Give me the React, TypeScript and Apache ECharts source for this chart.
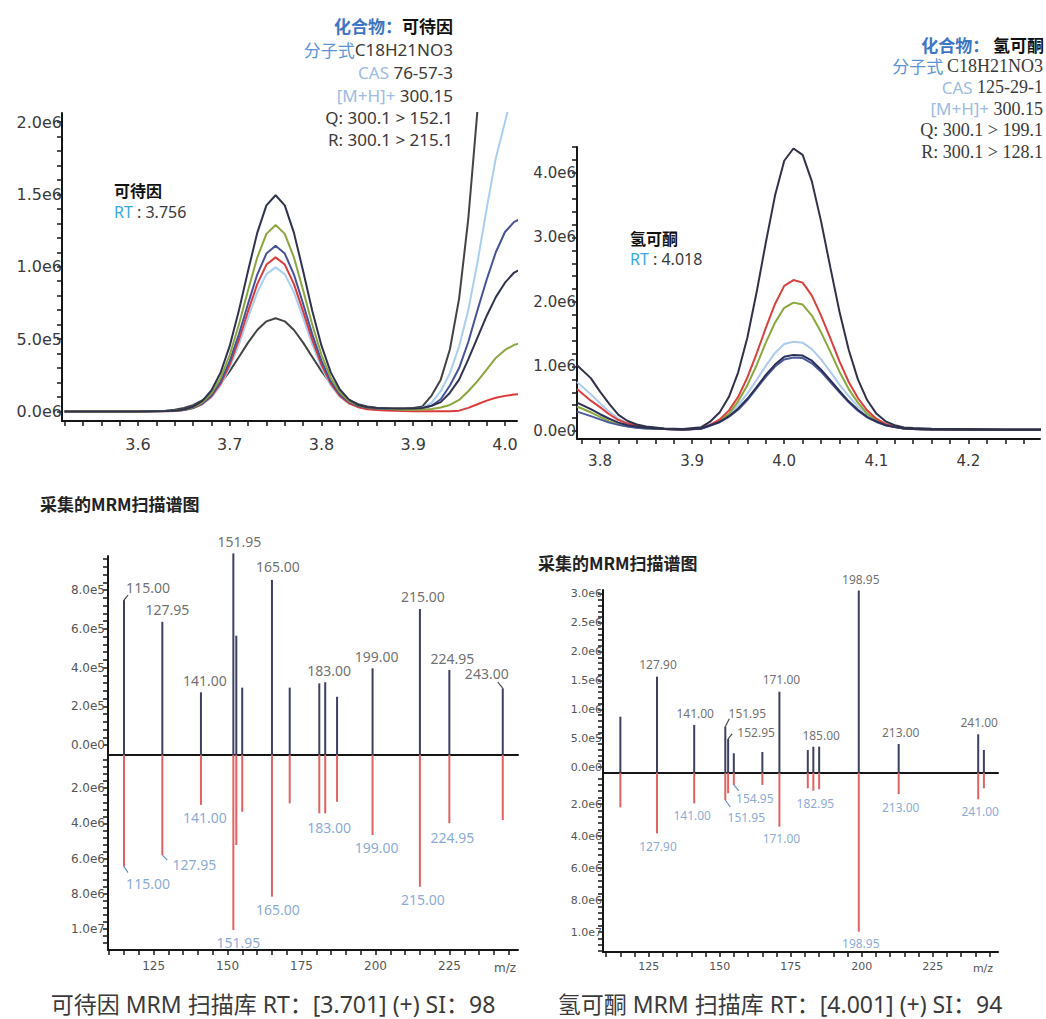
import React, { useEffect, useRef } from "react";
import * as echarts from "echarts";

// ---- Extracted ion chromatograms (retention time in min, intensity in 1e6 counts) ----
const codeineRt = [3.52, 3.56, 3.6, 3.63, 3.64, 3.65, 3.66, 3.67, 3.68, 3.69, 3.7, 3.71, 3.72, 3.73, 3.74, 3.75, 3.76, 3.77, 3.78, 3.79, 3.8, 3.81, 3.82, 3.83, 3.84, 3.85, 3.86, 3.87, 3.88, 3.89, 3.9, 3.91, 3.92, 3.93, 3.94, 3.95, 3.96, 3.97, 3.98, 3.99, 4.0, 4.01, 4.02];
const codeineNavy = [0, 0, 0, 0.003, 0.006, 0.014, 0.033, 0.072, 0.145, 0.268, 0.453, 0.697, 0.972, 1.234, 1.424, 1.494, 1.424, 1.234, 0.971, 0.695, 0.455, 0.272, 0.152, 0.082, 0.045, 0.03, 0.024, 0.022, 0.02, 0.02, 0.02, 0.025, 0.04, 0.065, 0.13, 0.22, 0.36, 0.51, 0.66, 0.79, 0.89, 0.96, 0.99];
const codeineGreen = [0, 0, 0, 0.003, 0.005, 0.012, 0.029, 0.062, 0.125, 0.231, 0.391, 0.601, 0.838, 1.064, 1.227, 1.288, 1.227, 1.064, 0.837, 0.6, 0.392, 0.235, 0.132, 0.072, 0.042, 0.028, 0.022, 0.02, 0.015, 0.012, 0.012, 0.014, 0.018, 0.028, 0.045, 0.08, 0.14, 0.21, 0.29, 0.37, 0.425, 0.46, 0.48];
const codeineIndigo = [0, 0, 0, 0.003, 0.005, 0.011, 0.026, 0.055, 0.111, 0.206, 0.348, 0.534, 0.745, 0.946, 1.091, 1.145, 1.091, 0.946, 0.744, 0.533, 0.349, 0.21, 0.118, 0.066, 0.038, 0.025, 0.02, 0.018, 0.015, 0.015, 0.018, 0.022, 0.04, 0.085, 0.18, 0.3, 0.48, 0.7, 0.91, 1.1, 1.24, 1.31, 1.34];
const codeineRed = [0, 0, 0, 0.002, 0.004, 0.01, 0.024, 0.052, 0.104, 0.192, 0.324, 0.496, 0.693, 0.88, 1.015, 1.065, 1.015, 0.88, 0.692, 0.495, 0.324, 0.194, 0.108, 0.057, 0.03, 0.016, 0.01, 0.007, 0.005, 0.003, 0.002, 0.002, 0.002, 0.002, 0.002, 0.006, 0.025, 0.05, 0.075, 0.095, 0.108, 0.117, 0.122];
const codeineSky = [0, 0, 0, 0.002, 0.004, 0.009, 0.022, 0.048, 0.097, 0.179, 0.303, 0.464, 0.648, 0.823, 0.949, 0.996, 0.949, 0.823, 0.647, 0.464, 0.304, 0.182, 0.102, 0.056, 0.033, 0.022, 0.017, 0.015, 0.015, 0.015, 0.018, 0.025, 0.06, 0.14, 0.265, 0.45, 0.7, 1.03, 1.4, 1.75, 2.0, 2.25, 2.5];
const codeineGray = [0, 0, 0, 0.006, 0.012, 0.024, 0.044, 0.076, 0.125, 0.194, 0.279, 0.377, 0.476, 0.563, 0.623, 0.644, 0.623, 0.563, 0.476, 0.377, 0.279, 0.195, 0.128, 0.08, 0.05, 0.034, 0.026, 0.022, 0.02, 0.02, 0.025, 0.035, 0.11, 0.22, 0.43, 0.78, 1.33, 2.08, 2.9, 3.6, 4.2, 4.8, 5.3];

const hydroRt = [3.775, 3.79, 3.8, 3.81, 3.82, 3.83, 3.84, 3.85, 3.87, 3.89, 3.91, 3.92, 3.93, 3.94, 3.95, 3.96, 3.97, 3.98, 3.99, 4.0, 4.01, 4.02, 4.03, 4.04, 4.05, 4.06, 4.07, 4.08, 4.09, 4.1, 4.11, 4.12, 4.13, 4.14, 4.16, 4.2, 4.24, 4.28];
const hydroDark = [1.02, 0.82, 0.61, 0.42, 0.25, 0.155, 0.1, 0.07, 0.04, 0.03, 0.06, 0.15, 0.29, 0.53, 0.91, 1.45, 2.15, 2.92, 3.65, 4.19, 4.38, 4.28, 3.87, 3.25, 2.54, 1.85, 1.26, 0.8, 0.48, 0.27, 0.15, 0.09, 0.055, 0.045, 0.035, 0.03, 0.025, 0.025];
const hydroRed = [0.65, 0.47, 0.37, 0.26, 0.17, 0.115, 0.08, 0.06, 0.03, 0.02, 0.04, 0.1, 0.18, 0.32, 0.53, 0.83, 1.2, 1.6, 1.97, 2.25, 2.34, 2.3, 2.1, 1.79, 1.44, 1.08, 0.76, 0.51, 0.32, 0.19, 0.11, 0.07, 0.04, 0.03, 0.025, 0.02, 0.02, 0.02];
const hydroGreen = [0.38, 0.29, 0.22, 0.15, 0.1, 0.07, 0.05, 0.04, 0.03, 0.02, 0.04, 0.09, 0.16, 0.27, 0.46, 0.71, 1.02, 1.37, 1.68, 1.91, 1.99, 1.96, 1.79, 1.53, 1.23, 0.92, 0.65, 0.44, 0.27, 0.17, 0.1, 0.06, 0.04, 0.03, 0.025, 0.02, 0.02, 0.02];
const hydroSky = [0.76, 0.57, 0.43, 0.3, 0.19, 0.12, 0.08, 0.06, 0.035, 0.025, 0.05, 0.1, 0.16, 0.26, 0.4, 0.58, 0.79, 1.01, 1.21, 1.35, 1.385, 1.37, 1.27, 1.11, 0.92, 0.72, 0.54, 0.38, 0.26, 0.17, 0.11, 0.07, 0.045, 0.03, 0.025, 0.02, 0.02, 0.02];
const hydroNavy = [0.44, 0.34, 0.26, 0.19, 0.13, 0.09, 0.065, 0.05, 0.03, 0.025, 0.04, 0.09, 0.14, 0.23, 0.35, 0.5, 0.68, 0.87, 1.03, 1.15, 1.18, 1.17, 1.09, 0.95, 0.79, 0.62, 0.46, 0.33, 0.22, 0.15, 0.09, 0.06, 0.04, 0.03, 0.025, 0.02, 0.02, 0.02];
const hydroIndigo = [0.3, 0.23, 0.18, 0.13, 0.095, 0.07, 0.05, 0.04, 0.03, 0.02, 0.035, 0.085, 0.14, 0.22, 0.33, 0.48, 0.66, 0.84, 1.0, 1.11, 1.14, 1.13, 1.05, 0.92, 0.76, 0.6, 0.445, 0.315, 0.21, 0.14, 0.09, 0.06, 0.04, 0.03, 0.025, 0.02, 0.02, 0.02];

// ---- MRM spectra: acquired (up) vs library (down), m/z and counts ----
const codeineMz = [115, 127.95, 141, 151.95, 152.95, 154.95, 165, 171, 181, 183, 187, 199, 215, 224.95, 243];
const codeineAcquired = [7.48e5, 6.36e5, 2.72e5, 9.89e5, 5.64e5, 2.96e5, 8.52e5, 2.96e5, 3.18e5, 3.24e5, 2.49e5, 3.96e5, 7.02e5, 3.87e5, 2.93e5];
const codeineLibrary = [6.46e6, 5.8e6, 2.95e6, 10.06e6, 5.23e6, 3.34e6, 8.16e6, 2.86e6, 3.43e6, 3.43e6, 2.77e6, 4.66e6, 7.6e6, 3.99e6, 3.81e6];

const hydroMz = [115, 127.9, 141, 151.95, 152.95, 154.95, 165, 171, 181, 182.95, 185, 198.95, 213, 241, 243];
const hydroAcquired = [0.872e6, 1.566e6, 0.728e6, 0.699e6, 0.486e6, 0.238e6, 0.26e6, 1.306e6, 0.295e6, 0.352e6, 0.352e6, 3.06e6, 0.399e6, 0.567e6, 0.295e6];
const hydroLibrary = [2.21e6, 3.83e6, 1.96e6, 1.75e6, 1.33e6, 0.81e6, 0.81e6, 3.42e6, 1.02e6, 1.17e6, 1.08e6, 9.98e6, 1.38e6, 1.71e6, 1.02e6];

// ---- Tick labels ----
const codeineRtTicks = [3.6, 3.7, 3.8, 3.9, 4.0];
const codeineIntTicks = [0, 0.5, 1.0, 1.5, 2.0];
const codeineIntLabels = ["0.0e6", "5.0e5", "1.0e6", "1.5e6", "2.0e6"];
const hydroRtTicks = [3.8, 3.9, 4.0, 4.1, 4.2];
const hydroIntTicks = [0, 1, 2, 3, 4];
const hydroIntLabels = ["0.0e0", "1.0e6", "2.0e6", "3.0e6", "4.0e6"];
const mzTicks = [125, 150, 175, 200, 225];
const codeineAcqTicks = [0, 2e5, 4e5, 6e5, 8e5];
const codeineAcqLabels = ["0.0e0", "2.0e5", "4.0e5", "6.0e5", "8.0e5"];
const hydroAcqTicks = [0, 5e5, 1e6, 1.5e6, 2e6, 2.5e6, 3e6];
const hydroAcqLabels = ["0.0e0", "5.0e5", "1.0e6", "1.5e6", "2.0e6", "2.5e6", "3.0e6"];
const libTicks = [2e6, 4e6, 6e6, 8e6, 1e7];
const libLabels = ["2.0e6", "4.0e6", "6.0e6", "8.0e6", "1.0e7"];

const AXIS = "#161616";
const TICK_FONT = "DejaVu Sans";
const SANS = "Noto Sans, Noto Sans CJK SC, sans-serif";
const CJK = "Noto Sans CJK SC, sans-serif";
const SERIF = "Liberation Serif, serif";

function steps(from: number, to: number, step: number) {
  const out: number[] = [];
  const n = Math.round((to - from) / step);
  for (let k = 0; k <= n; k++) out.push(+(from + k * step).toFixed(6));
  return out;
}

function lookup(values: number[], texts: string[]) {
  return (v: number) => {
    const i = values.findIndex((x) => Math.abs(x - v) <= 1e-9 * Math.max(1, Math.abs(x)));
    return i >= 0 ? texts[i] : "";
  };
}

function axis(o: any) {
  return {
    type: "value",
    gridIndex: o.grid,
    min: o.min,
    max: o.max,
    inverse: !!o.inverse,
    splitLine: { show: false },
    axisLine: { show: true, onZero: false, lineStyle: { color: AXIS, width: 2 } },
    axisTick: o.ticks
      ? { show: true, customValues: o.ticks, length: 5, lineStyle: { color: AXIS, width: 1.5 } }
      : { show: false },
    axisLabel: o.labels
      ? {
          show: true,
          customValues: o.labels,
          formatter: o.fmt,
          fontSize: o.fontSize,
          color: o.color || "#3a3a3a",
          margin: o.margin,
          fontFamily: TICK_FONT,
        }
      : { show: false },
  };
}

function lineSeries(axisIndex: number, rt: number[], vals: number[], color: string) {
  return {
    type: "line",
    xAxisIndex: axisIndex,
    yAxisIndex: axisIndex,
    data: rt.map((t, i) => [t, vals[i]]),
    symbol: "none",
    showSymbol: false,
    smooth: false,
    silent: true,
    clip: true,
    lineStyle: { color, width: 2 },
    itemStyle: { color },
  };
}

function stickSeries(axisIndex: number, mz: number[], vals: number[], base: number, color: string) {
  return {
    type: "custom",
    xAxisIndex: axisIndex,
    yAxisIndex: axisIndex,
    silent: true,
    clip: false,
    data: mz.map((m, i) => [m, vals[i]]),
    renderItem: (_p: any, api: any) => {
      const m = api.value(0);
      const a = api.coord([m, base]);
      const b = api.coord([m, api.value(1)]);
      return {
        type: "line",
        shape: { x1: a[0], y1: a[1], x2: b[0], y2: b[1] },
        style: { stroke: color, lineWidth: 2 },
      };
    },
  };
}

type LabelSpot = { i: number; dx: number; dy: number; leader?: number[] };

function labelSeries(axisIndex: number, mz: number[], vals: number[], spots: LabelSpot[], color: string, fontSize: number) {
  return {
    type: "scatter",
    xAxisIndex: axisIndex,
    yAxisIndex: axisIndex,
    silent: true,
    clip: false,
    symbolSize: 0,
    itemStyle: { color: "transparent" },
    data: spots.map((s) => ({
      name: mz[s.i].toFixed(2),
      value: [mz[s.i], vals[s.i]],
      label: { offset: [s.dx, s.dy] },
    })),
    label: {
      show: true,
      position: "inside",
      formatter: "{b}",
      color,
      fontSize,
      fontFamily: SANS,
    },
    z: 5,
  };
}

function leaderSeries(axisIndex: number, mz: number[], vals: number[], spots: LabelSpot[], color: string) {
  const withLeader = spots.filter((s) => s.leader);
  return {
    type: "custom",
    xAxisIndex: axisIndex,
    yAxisIndex: axisIndex,
    silent: true,
    clip: false,
    data: withLeader.map((s) => [mz[s.i], vals[s.i], s.leader![0], s.leader![1]]),
    renderItem: (_p: any, api: any) => {
      const p = api.coord([api.value(0), api.value(1)]);
      return {
        type: "line",
        shape: { x1: p[0], y1: p[1], x2: p[0] + api.value(2), y2: p[1] + api.value(3) },
        style: { stroke: color, lineWidth: 1.2 },
      };
    },
  };
}

// label placement around stick tips (pixels)
const codeineUpSpots: LabelSpot[] = [
  { i: 0, dx: 24, dy: -13, leader: [4, -5] },
  { i: 1, dx: 5, dy: -12 },
  { i: 2, dx: 4, dy: -12 },
  { i: 3, dx: 6, dy: -12 },
  { i: 6, dx: 6, dy: -13 },
  { i: 9, dx: 4, dy: -12 },
  { i: 11, dx: 4, dy: -12 },
  { i: 12, dx: 3, dy: -12 },
  { i: 13, dx: 3, dy: -12 },
  { i: 14, dx: -16, dy: -15, leader: [-5, -6] },
];
const codeineDownSpots: LabelSpot[] = [
  { i: 0, dx: 24, dy: 17, leader: [4, 6] },
  { i: 1, dx: 32, dy: 9, leader: [5, 5] },
  { i: 2, dx: 4, dy: 13 },
  { i: 3, dx: 5, dy: 12 },
  { i: 6, dx: 6, dy: 13 },
  { i: 9, dx: 4, dy: 14 },
  { i: 11, dx: 4, dy: 12 },
  { i: 12, dx: 3, dy: 13 },
  { i: 13, dx: 3, dy: 14 },
];
const hydroUpSpots: LabelSpot[] = [
  { i: 1, dx: 1, dy: -12 },
  { i: 2, dx: 1, dy: -12 },
  { i: 3, dx: 22, dy: -13, leader: [4, -8] },
  { i: 4, dx: 28, dy: -6, leader: [4, -5] },
  { i: 7, dx: 2, dy: -12 },
  { i: 10, dx: 2, dy: -11 },
  { i: 11, dx: 2, dy: -11 },
  { i: 12, dx: 2, dy: -11 },
  { i: 13, dx: 1, dy: -12 },
];
const hydroDownSpots: LabelSpot[] = [
  { i: 1, dx: 1, dy: 13 },
  { i: 2, dx: -2, dy: 12 },
  { i: 3, dx: 21, dy: 17, leader: [5, 7] },
  { i: 5, dx: 21, dy: 14, leader: [5, 6] },
  { i: 7, dx: 2, dy: 12 },
  { i: 9, dx: 2, dy: 13 },
  { i: 11, dx: 2, dy: 12 },
  { i: 12, dx: 2, dy: 13 },
  { i: 13, dx: 2, dy: 12 },
];

function infoRich(serif: boolean) {
  const lh = 19;
  return {
    b: { fill: "#3f76c4", fontSize: 17, fontWeight: "bold", fontFamily: CJK, lineHeight: lh },
    k: { fill: "#111111", fontSize: 17, fontWeight: "bold", fontFamily: CJK, lineHeight: lh },
    l: { fill: "#5b93d6", fontSize: 17, fontFamily: CJK, lineHeight: lh },
    m: { fill: "#9dbbe4", fontSize: 17, fontFamily: SANS, lineHeight: lh },
    g: { fill: "#3a3a3a", fontSize: serif ? 18 : 17, fontFamily: serif ? SERIF : SANS, lineHeight: lh },
  };
}

function richText(x: number, y: number, text: string, rich: any, align = "right") {
  return {
    type: "text",
    x,
    y,
    silent: true,
    style: { text, rich, align, verticalAlign: "middle" },
    z: 10,
  };
}

function plainText(x: number, y: number, text: string, style: any) {
  return {
    type: "text",
    x,
    y,
    silent: true,
    style: { text, verticalAlign: "middle", ...style },
    z: 10,
  };
}

function buildOption() {
  const fmtRt = (v: number) => v.toFixed(1);
  const fmtMz = (v: number) => String(v);
  const leftRich = infoRich(false);
  const rightRich = infoRich(true);
  const peakRich = {
    k: { fill: "#111111", fontSize: 16, fontWeight: "bold", fontFamily: CJK, lineHeight: 19 },
    r: { fill: "#3aa9e0", fontSize: 16, fontFamily: SANS, lineHeight: 19 },
    g: { fill: "#3a3a3a", fontSize: 16, fontFamily: SANS, lineHeight: 19 },
  };
  const captionStyle = { fill: "#3a3a3a", fontSize: 23, fontFamily: SANS, align: "center" };
  const titleStyle = { fill: "#222", fontSize: 17, fontWeight: "bold", fontFamily: CJK, align: "left" };

  return {
    animation: false,
    backgroundColor: "#ffffff",
    grid: [
      { left: 62, top: 113, width: 455, height: 308 },
      { left: 577, top: 147, width: 463, height: 292 },
      { left: 108, top: 556, width: 410, height: 199 },
      { left: 108, top: 755, width: 410, height: 195 },
      { left: 603, top: 590, width: 395, height: 183 },
      { left: 603, top: 773, width: 395, height: 179 },
    ],
    xAxis: [
      axis({ grid: 0, min: 3.5172, max: 4.0131, ticks: steps(3.52, 4.0, 0.02), labels: codeineRtTicks, fmt: fmtRt, fontSize: 16, margin: 15 }),
      axis({ grid: 1, min: 3.775, max: 4.2777, ticks: steps(3.78, 4.26, 0.02), labels: hydroRtTicks, fmt: fmtRt, fontSize: 15, margin: 14 }),
      axis({ grid: 2, min: 109.59, max: 248.15 }),
      axis({ grid: 3, min: 109.59, max: 248.15, ticks: steps(110, 245, 5), labels: mzTicks, fmt: fmtMz, fontSize: 12, margin: 10, color: "#555" }),
      axis({ grid: 4, min: 108.89, max: 247.97 }),
      axis({ grid: 5, min: 108.89, max: 247.97, ticks: steps(110, 245, 5), labels: mzTicks, fmt: fmtMz, fontSize: 11, margin: 9, color: "#555" }),
    ],
    yAxis: [
      axis({ grid: 0, min: -0.0656, max: 2.0622, ticks: steps(0, 2.0, 0.1), labels: codeineIntTicks, fmt: lookup(codeineIntTicks, codeineIntLabels), fontSize: 16, margin: 0 }),
      axis({ grid: 1, min: -0.124, max: 4.403, ticks: steps(0, 4.4, 0.2), labels: hydroIntTicks, fmt: lookup(hydroIntTicks, hydroIntLabels), fontSize: 15, margin: 1 }),
      axis({ grid: 2, min: -51600, max: 975500, ticks: steps(0, 9.6e5, 4e4), labels: codeineAcqTicks, fmt: lookup(codeineAcqTicks, codeineAcqLabels), fontSize: 12, margin: 3, color: "#555" }),
      axis({ grid: 3, min: 113600, max: 11193000, inverse: true, ticks: steps(4e5, 11.2e6, 4e5), labels: libTicks, fmt: lookup(libTicks, libLabels), fontSize: 12, margin: 3, color: "#555" }),
      axis({ grid: 4, min: -104000, max: 3069000, ticks: steps(0, 3.0e6, 1e5), labels: hydroAcqTicks, fmt: lookup(hydroAcqTicks, hydroAcqLabels), fontSize: 11, margin: 1, color: "#555" }),
      axis({ grid: 5, min: 62500, max: 11250000, inverse: true, ticks: steps(4e5, 11.2e6, 4e5), labels: libTicks, fmt: lookup(libTicks, libLabels), fontSize: 11, margin: 1, color: "#555" }),
    ],
    series: [
      lineSeries(0, codeineRt, codeineGray, "#444444"),
      lineSeries(0, codeineRt, codeineSky, "#a9cff0"),
      lineSeries(0, codeineRt, codeineRed, "#dc3b3b"),
      lineSeries(0, codeineRt, codeineIndigo, "#45529a"),
      lineSeries(0, codeineRt, codeineGreen, "#8aa63f"),
      lineSeries(0, codeineRt, codeineNavy, "#30334f"),

      lineSeries(1, hydroRt, hydroSky, "#aecbec"),
      lineSeries(1, hydroRt, hydroGreen, "#89a83c"),
      lineSeries(1, hydroRt, hydroRed, "#d9413f"),
      lineSeries(1, hydroRt, hydroIndigo, "#4b5b9e"),
      lineSeries(1, hydroRt, hydroNavy, "#2d3056"),
      lineSeries(1, hydroRt, hydroDark, "#30324a"),

      stickSeries(2, codeineMz, codeineAcquired, -51600, "#3d4060"),
      stickSeries(3, codeineMz, codeineLibrary, 113600, "#e06262"),
      labelSeries(2, codeineMz, codeineAcquired, codeineUpSpots, "#4a4a4a", 14),
      labelSeries(3, codeineMz, codeineLibrary, codeineDownSpots, "#6b93cc", 14),
      leaderSeries(2, codeineMz, codeineAcquired, codeineUpSpots, "#4a4a4a"),
      leaderSeries(3, codeineMz, codeineLibrary, codeineDownSpots, "#6b93cc"),

      stickSeries(4, hydroMz, hydroAcquired, -104000, "#3d4060"),
      stickSeries(5, hydroMz, hydroLibrary, 62500, "#e06262"),
      labelSeries(4, hydroMz, hydroAcquired, hydroUpSpots, "#4a4a4a", 12),
      labelSeries(5, hydroMz, hydroLibrary, hydroDownSpots, "#6b93cc", 12),
      leaderSeries(4, hydroMz, hydroAcquired, hydroUpSpots, "#4a4a4a"),
      leaderSeries(5, hydroMz, hydroLibrary, hydroDownSpots, "#6b93cc"),
    ],
    graphic: [
      // compound information, codeine
      richText(453, 25, "{b|化合物：}{k|可待因}", leftRich),
      richText(453, 49, "{l|分子式}{g|C18H21NO3}", leftRich),
      richText(453, 72, "{m|CAS}{g| 76-57-3}", leftRich),
      richText(453, 95, "{m|[M+H]+}{g| 300.15}", leftRich),
      richText(453, 117, "{g|Q: 300.1 > 152.1}", leftRich),
      richText(453, 139, "{g|R: 300.1 > 215.1}", leftRich),
      richText(114, 190, "{k|可待因}", peakRich, "left"),
      richText(114, 212, "{r|RT}{g| : 3.756}", peakRich, "left"),

      // compound information, hydrocodone
      richText(1044, 44, "{b|化合物： }{k|氢可酮}", rightRich),
      richText(1043, 65.5, "{l|分子式 }{g|C18H21NO3}", rightRich),
      richText(1043, 87, "{m|CAS }{g|125-29-1}", rightRich),
      richText(1043, 108.5, "{m|[M+H]+ }{g|300.15}", rightRich),
      richText(1043, 130, "{g|Q: 300.1 > 199.1}", rightRich),
      richText(1043, 151.5, "{g|R: 300.1 > 128.1}", rightRich),
      richText(630, 238, "{k|氢可酮}", peakRich, "left"),
      richText(630, 259, "{r|RT}{g| : 4.018}", peakRich, "left"),

      // spectrum titles and axis names
      plainText(40, 503, "采集的MRM扫描谱图", titleStyle),
      plainText(538, 562, "采集的MRM扫描谱图", titleStyle),
      plainText(505, 968, "m/z", { fill: "#555", fontSize: 12, fontFamily: TICK_FONT, align: "center" }),
      plainText(983, 968, "m/z", { fill: "#555", fontSize: 11, fontFamily: TICK_FONT, align: "center" }),

      // captions
      plainText(273, 1004, "可待因 MRM 扫描库 RT：[3.701] (+) SI：98", captionStyle),
      plainText(780, 1004, "氢可酮 MRM 扫描库 RT：[4.001] (+) SI：94", captionStyle),
    ],
  };
}

export default function App() {
  const ref = useRef<HTMLDivElement>(null);
  useEffect(() => {
    if (!ref.current) return;
    const chart = echarts.init(ref.current, null, { renderer: "svg" });
    chart.setOption(buildOption() as any);
    return () => chart.dispose();
  }, []);
  return (
    <div
      ref={ref}
      style={{ position: "fixed", left: 0, top: 0, width: 1046, height: 1019, background: "#fff" }}
    />
  );
}
